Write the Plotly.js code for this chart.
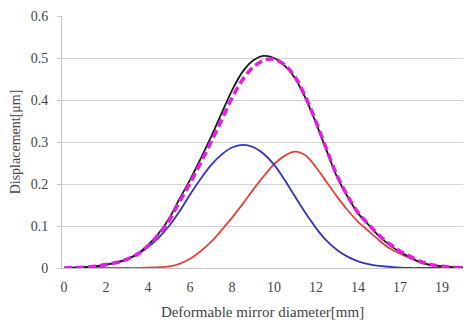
<!DOCTYPE html>
<html>
<head>
<meta charset="utf-8">
<script src="https://cdn.plot.ly/plotly-3.0.1.min.js"></script>
<style>html,body{margin:0;padding:0;background:#fff;}#chart{width:466px;height:321px;}</style>
</head>
<body>
<div id="chart"></div>
<script>
// x positions (mm along the category axis)
const xs = [0,0.5,1,1.5,2,2.5,3,3.5,4,4.5,5,5.5,6,6.5,7,7.5,8,8.5,9,9.5,10,10.5,11,11.5,12,12.5,13,13.5,14,14.5,15,15.5,16,16.5,17,17.5,18,18.5,19];

const blueVals = [0.000,0.001,0.002,0.004,0.008,0.013,0.021,0.033,0.050,0.072,0.100,0.135,0.175,0.212,0.245,0.270,0.287,0.293,0.288,0.272,0.246,0.210,0.170,0.131,0.095,0.065,0.043,0.027,0.016,0.009,0.005,0.003,0.001,0.000,0.000,0.000,0.000,0.000,0.000];

const redVals = [0.000,0.000,0.000,0.000,0.000,0.000,0.000,0.000,0.001,0.002,0.004,0.010,0.022,0.040,0.062,0.090,0.120,0.152,0.186,0.218,0.247,0.267,0.277,0.268,0.240,0.205,0.170,0.138,0.110,0.088,0.066,0.047,0.034,0.023,0.013,0.007,0.004,0.002,0.001];

const blackVals = [0.000,0.001,0.002,0.004,0.008,0.013,0.021,0.034,0.055,0.082,0.118,0.165,0.210,0.260,0.312,0.368,0.423,0.467,0.494,0.505,0.500,0.482,0.452,0.404,0.345,0.280,0.217,0.170,0.130,0.103,0.076,0.055,0.038,0.025,0.013,0.007,0.004,0.002,0.001];

const magentaVals = [0.000,0.001,0.002,0.004,0.008,0.013,0.021,0.033,0.053,0.079,0.113,0.158,0.202,0.250,0.300,0.352,0.405,0.448,0.478,0.494,0.497,0.484,0.455,0.407,0.348,0.283,0.220,0.172,0.132,0.104,0.078,0.057,0.040,0.027,0.015,0.008,0.004,0.002,0.001];

const tickPos = [0,2,4,6,8,10,12,14,16,18];
const tickLabels = ['0','2','4','6','8','10','12','14','17','19'];
const yTicks = [0,0.1,0.2,0.3,0.4,0.5,0.6];
const yTickLabels = ['0','0.1','0.2','0.3','0.4','0.5','0.6'];

const serif = '"Liberation Serif", serif';

const traces = [
  {x: xs, y: redVals, mode: 'lines', line: {color: '#e2443a', width: 1.8, shape: 'spline'}, name: 'red'},
  {x: xs, y: blueVals, mode: 'lines', line: {color: '#3434c4', width: 1.8, shape: 'spline'}, name: 'blue'},
  {x: xs, y: blackVals, mode: 'lines', line: {color: '#1a1a1a', width: 1.8, shape: 'spline'}, name: 'black'},
  {x: xs, y: magentaVals, mode: 'lines', line: {color: '#e020e0', width: 3.6, dash: '8px,4px', shape: 'spline'}, name: 'magenta'}
];

const layout = {
  width: 466, height: 321,
  margin: {l: 62, r: 3, t: 16, b: 53},
  paper_bgcolor: '#fff', plot_bgcolor: '#fff',
  showlegend: false,
  font: {family: serif, size: 14, color: '#444'},
  xaxis: {
    range: [-0.1, 19.0],
    tickvals: tickPos, ticktext: tickLabels,
    showgrid: false, zeroline: false,
    showline: true, linecolor: '#c4c4c4', linewidth: 1,
    ticks: '', ticklabelstandoff: 6,
    tickfont: {family: serif, size: 14, color: '#444'},
    title: {text: 'Deformable mirror diameter[mm]', font: {family: serif, size: 15, color: '#444'}, standoff: 12}
  },
  yaxis: {
    range: [0, 0.6],
    tickvals: yTicks, ticktext: yTickLabels,
    showgrid: true, gridcolor: '#d4d4d4', gridwidth: 1,
    zeroline: false,
    showline: true, linecolor: '#c4c4c4', linewidth: 1,
    ticks: 'outside', ticklen: 4, tickcolor: '#c4c4c4',
    ticklabelstandoff: 6,
    tickfont: {family: serif, size: 14, color: '#444'},
    title: {text: 'Displacement[μm]', font: {family: serif, size: 14, color: '#444'}, standoff: 6}
  }
};

Plotly.newPlot('chart', traces, layout, {staticPlot: true, displayModeBar: false});
</script>
</body>
</html>
